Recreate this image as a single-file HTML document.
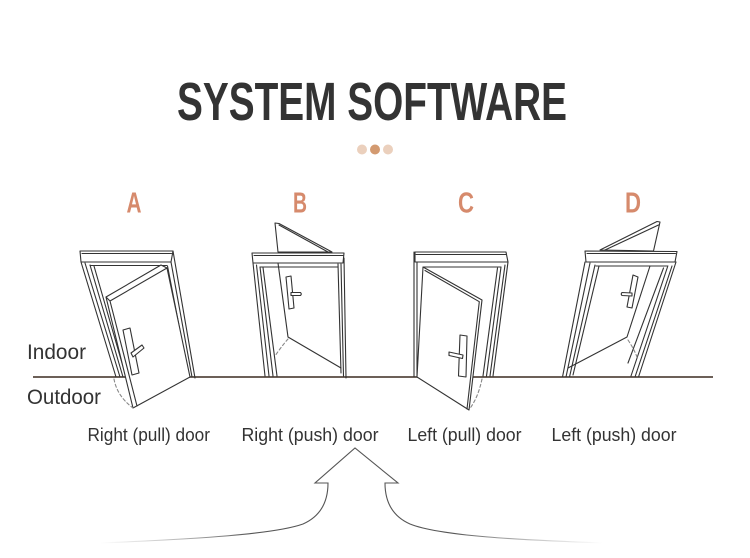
<!DOCTYPE html>
<html><head><meta charset="utf-8"><style>
html,body{margin:0;padding:0;background:#fff;}
svg{display:block;}
</style></head><body>
<svg width="750" height="558" viewBox="0 0 750 558" xmlns="http://www.w3.org/2000/svg">
<defs>
<linearGradient id="fade" gradientUnits="userSpaceOnUse" x1="100" y1="0" x2="603" y2="0">
<stop offset="0" stop-color="#999" stop-opacity="0"/>
<stop offset="0.3" stop-color="#555" stop-opacity="1"/>
<stop offset="0.7" stop-color="#555" stop-opacity="1"/>
<stop offset="1" stop-color="#999" stop-opacity="0"/>
</linearGradient>
</defs>
<rect width="750" height="558" fill="#fff"/>

<!-- Title -->
<text x="177" y="120" font-family="Liberation Sans, sans-serif" font-weight="bold" font-size="54" fill="#333" textLength="390" lengthAdjust="spacingAndGlyphs">SYSTEM SOFTWARE</text>
<circle cx="362" cy="149.5" r="5" fill="#ebd0bd"/>
<circle cx="375" cy="149.5" r="5" fill="#d39a70"/>
<circle cx="388" cy="149.5" r="5" fill="#ebd0bd"/>

<!-- Letters -->
<g font-family="Liberation Sans, sans-serif" font-size="29" font-weight="bold" fill="#d68a6c">
<text x="126.5" y="212.5" textLength="15" lengthAdjust="spacingAndGlyphs">A</text>
<text x="293" y="212.5" textLength="14" lengthAdjust="spacingAndGlyphs">B</text>
<text x="458" y="212.5" textLength="16" lengthAdjust="spacingAndGlyphs">C</text>
<text x="625" y="212.5" textLength="16" lengthAdjust="spacingAndGlyphs">D</text>
</g>

<!-- Indoor / Outdoor -->
<g font-family="Liberation Sans, sans-serif" font-size="21" fill="#333">
<text x="27" y="359" textLength="59" lengthAdjust="spacingAndGlyphs">Indoor</text>
<text x="27" y="404" textLength="74" lengthAdjust="spacingAndGlyphs">Outdoor</text>
</g>

<!-- Floor -->
<line x1="33" y1="377" x2="713" y2="377" stroke="#3b2b20" stroke-width="1.6"/>

<g fill="none" stroke="#333" stroke-width="1.1" stroke-linejoin="round" stroke-linecap="round">
<!-- ===== Door A ===== -->
<path d="M80,251 L173,251 L171,262 L81,262 Z" fill="#fff"/>
<path d="M82,253.5 L171.5,253.5"/>
<path d="M81,262 L116,377 M85,263 L120,377 M90,265 L123,377 M94,266 L126,377"/>
<path d="M173,251 L195,378 M171,262 L192,377 M167.5,266 L189,377"/>
<path d="M90,265.5 L167,265.5"/>
<path d="M106,297 L161,265 L167,268 L190,377 L133,408 Z" fill="#fff"/>
<path d="M110,301 L167,268 M110,301 L137,406 M106,297 L110,301"/>
<path d="M123,330 L130,328 L139,373 L132,375 Z" fill="#fff"/>
<path d="M131,353 L142,345 L144,348 L133,357 Z" fill="#fff"/>
<path d="M114,379 Q117,396 133,408" stroke="#888" stroke-dasharray="3,2.5"/>

<!-- ===== Door B ===== -->
<path d="M275,223 L279,223.5 L332,252 L278,252 Z" fill="#fff"/>
<path d="M279,225 L328,252"/>
<path d="M252,253 L344,253 L343,263 L253,263 Z" fill="#fff"/>
<path d="M254,255.5 L343,255.5"/>
<path d="M253,263 L265,376 M256.5,265 L269,376 M260,267 L273,376 M263,267.5 L277,376"/>
<path d="M338,264 L341,373 M341,264 L343.5,376 M344,258 L346,378"/>
<path d="M260,267 L338,267"/>
<path d="M278,263 L288,337 L341,368"/>
<path d="M288,339 Q281,347 275,356" stroke="#888" stroke-dasharray="3,2.5"/>
<path d="M286,277 L291,276 L294,308 L289,309 Z" fill="#fff"/>
<path d="M291,292.5 L300.5,292.5 Q302,294 300.5,295.5 L291,295.5 Z" fill="#fff"/>

<!-- ===== Door C ===== -->
<path d="M415,252 L506,252 L508,262 L415,262 Z" fill="#fff"/>
<path d="M416,254.5 L506,254.5"/>
<path d="M414,252 L414,377 M417,262 L417,377"/>
<path d="M508,262 L493,376 M505,265 L490,376 M501,267 L486.5,376 M497.5,268 L483,376"/>
<path d="M423,267 L501,267"/>
<path d="M423,267 L482,300 L469,410 L417,377 Z" fill="#fff"/>
<path d="M425,270.5 L479.3,301.7 L467,409"/>
<path d="M460,335 L467,336 L466,377 L458.5,376 Z" fill="#fff"/>
<path d="M449,352 L463,355 L462.5,358.5 L449,355.5 Z" fill="#fff"/>
<path d="M482,379 Q478,398 469.5,409" stroke="#888" stroke-dasharray="3,2.5"/>

<!-- ===== Door D ===== -->
<path d="M600,250 L657,221.5 L660,222 L653.5,251 Z" fill="#fff"/>
<path d="M605,250 L658.5,225"/>
<path d="M585,251 L677,251.5 L675,262 L586,262 Z" fill="#fff"/>
<path d="M587,253.5 L675.5,253.5"/>
<path d="M585,262 L562.5,377 M590,263 L566,377 M595,265 L569.5,377 M599,266 L573,375"/>
<path d="M676,262 L638.5,377 M672,266 L635,377 M667.5,267 L631,376 M663.5,268 L628,363"/>
<path d="M596,266 L668,266"/>
<path d="M650,266 L627,337 L568,368"/>
<path d="M628,340 Q634,349 637,357" stroke="#888" stroke-dasharray="3,2.5"/>
<path d="M633,275 L638,277 L632,308 L627,307 Z" fill="#fff"/>
<path d="M622,292.5 L632,293 L632,296 L622,295.5 Q620.5,294 622,292.5 Z" fill="#fff"/>
</g>

<!-- Door labels -->
<g font-family="Liberation Sans, sans-serif" font-size="18" fill="#333">
<text x="87.5" y="441" textLength="122.5" lengthAdjust="spacingAndGlyphs">Right (pull) door</text>
<text x="241.5" y="441" textLength="137" lengthAdjust="spacingAndGlyphs">Right (push) door</text>
<text x="407.5" y="441" textLength="114" lengthAdjust="spacingAndGlyphs">Left (pull) door</text>
<text x="551.5" y="441" textLength="125" lengthAdjust="spacingAndGlyphs">Left (push) door</text>
</g>

<!-- Bottom arrow -->
<path d="M100,543 C200,539 275,534 303,524 C321,516 328,501 328,483 L315,483 L355,448 L398,483 L385,483 C385,501 392,516 410,524 C440,536 520,540 603,543" fill="none" stroke="url(#fade)" stroke-width="1.1" stroke-linejoin="miter"/>
</svg>
</body></html>
